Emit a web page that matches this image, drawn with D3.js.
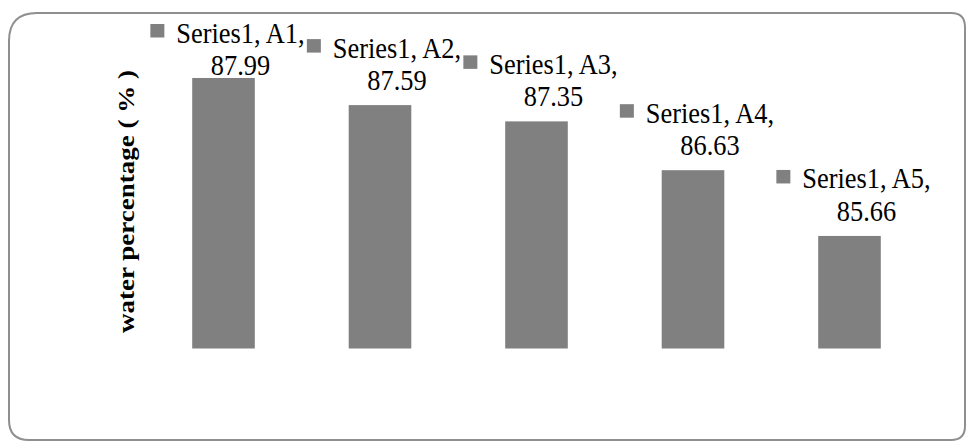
<!DOCTYPE html>
<html>
<head>
<meta charset="utf-8">
<script src="https://cdn.jsdelivr.net/npm/d3@7"></script>
<style>
  html, body { margin: 0; padding: 0; background: #fff; }
  svg { display: block; }
  .serif { font-family: "Liberation Serif", "Times New Roman", serif; }
</style>
</head>
<body>
<svg id="chart" width="967" height="441"></svg>
<script>
// ---- data ----
const seriesName = "Series1";
const categories = ["A1", "A2", "A3", "A4", "A5"];
const values = [87.99, 87.59, 87.35, 86.63, 85.66];
const yTitle = "water percentage ( % )";

// ---- layout ----
const svg = d3.select("#chart");

// frame with rounded corners
(function frame() {
  const x0 = 9, y0 = 13, x1 = 965, y1 = 440;
  const tl = 28, tr = 14, br = 14, bl = 20;
  const p = d3.path();
  p.moveTo(x0 + tl, y0);
  p.lineTo(x1 - tr, y0);
  p.quadraticCurveTo(x1, y0, x1, y0 + tr);
  p.lineTo(x1, y1 - br);
  p.quadraticCurveTo(x1, y1, x1 - br, y1);
  p.lineTo(x0 + bl, y1);
  p.quadraticCurveTo(x0, y1, x0, y1 - bl);
  p.lineTo(x0, y0 + tl);
  p.quadraticCurveTo(x0, y0, x0 + tl, y0);
  p.closePath();
  svg.append("path").attr("d", p.toString())
    .attr("fill", "#fff").attr("stroke", "#8f8f8f").attr("stroke-width", 2);
})();

const x = d3.scaleBand().domain(categories)
  .range([145.25, 927.75]).paddingInner(0.6).paddingOuter(0.3);
const y = d3.scaleLinear().domain([84, 88]).range([348.5, 77.3]);

const data = categories.map((c, i) => ({ cat: c, value: values[i] }));

// bars
svg.append("g").selectAll("rect").data(data).join("rect")
  .attr("x", d => x(d.cat))
  .attr("y", d => y(d.value))
  .attr("width", x.bandwidth())
  .attr("height", d => y(y.domain()[0]) - y(d.value))
  .attr("fill", "#808080");

// y-axis title
svg.append("text")
  .attr("class", "serif")
  .attr("transform", "translate(134,201.5) rotate(-90)")
  .attr("text-anchor", "middle")
  .style("font-weight", "bold")
  .style("font-size", "23px")
  .attr("textLength", 263)
  .attr("lengthAdjust", "spacingAndGlyphs")
  .attr("fill", "#000")
  .text(yTitle);

// data labels with legend key
const measureSize = 26.4, drawSize = 29.5, keySize = 14, keyGap = 12, lineGap = 32.5;
function measure(str) {
  const t = svg.append("text").attr("class", "serif")
    .style("font-size", measureSize + "px").text(str);
  const w = t.node().getComputedTextLength();
  t.remove();
  return w;
}
const labels = svg.append("g").selectAll("g").data(data).join("g");
labels.each(function (d) {
  const g = d3.select(this);
  const line1 = `${seriesName}, ${d.cat},`;
  const line2 = `${d.value.toFixed(2)}`;
  const base2 = Math.max(y(d.value) - 15, 75);
  const base1 = base2 - lineGap;
  const cx = x(d.cat) + x.bandwidth() / 2 + 4;
  const w1 = measure(line1), w2 = measure(line2);
  const blockW = keySize + keyGap + w1;
  const bx = cx - blockW / 2;
  const tx = bx + keySize + keyGap;

  g.append("text").attr("class", "serif")
    .style("font-size", drawSize + "px")
    .attr("x", tx).attr("y", base1)
    .attr("textLength", w1).attr("lengthAdjust", "spacingAndGlyphs")
    .attr("fill", "#000").text(line1);

  g.append("text").attr("class", "serif")
    .style("font-size", drawSize + "px")
    .attr("x", tx + w1 / 2 - w2 / 2).attr("y", base2)
    .attr("textLength", w2).attr("lengthAdjust", "spacingAndGlyphs")
    .attr("fill", "#000").text(line2);

  g.append("rect")
    .attr("x", bx).attr("y", base1 - 18.5)
    .attr("width", keySize).attr("height", 13.5)
    .attr("fill", "#808080");
});
</script>
</body>
</html>
